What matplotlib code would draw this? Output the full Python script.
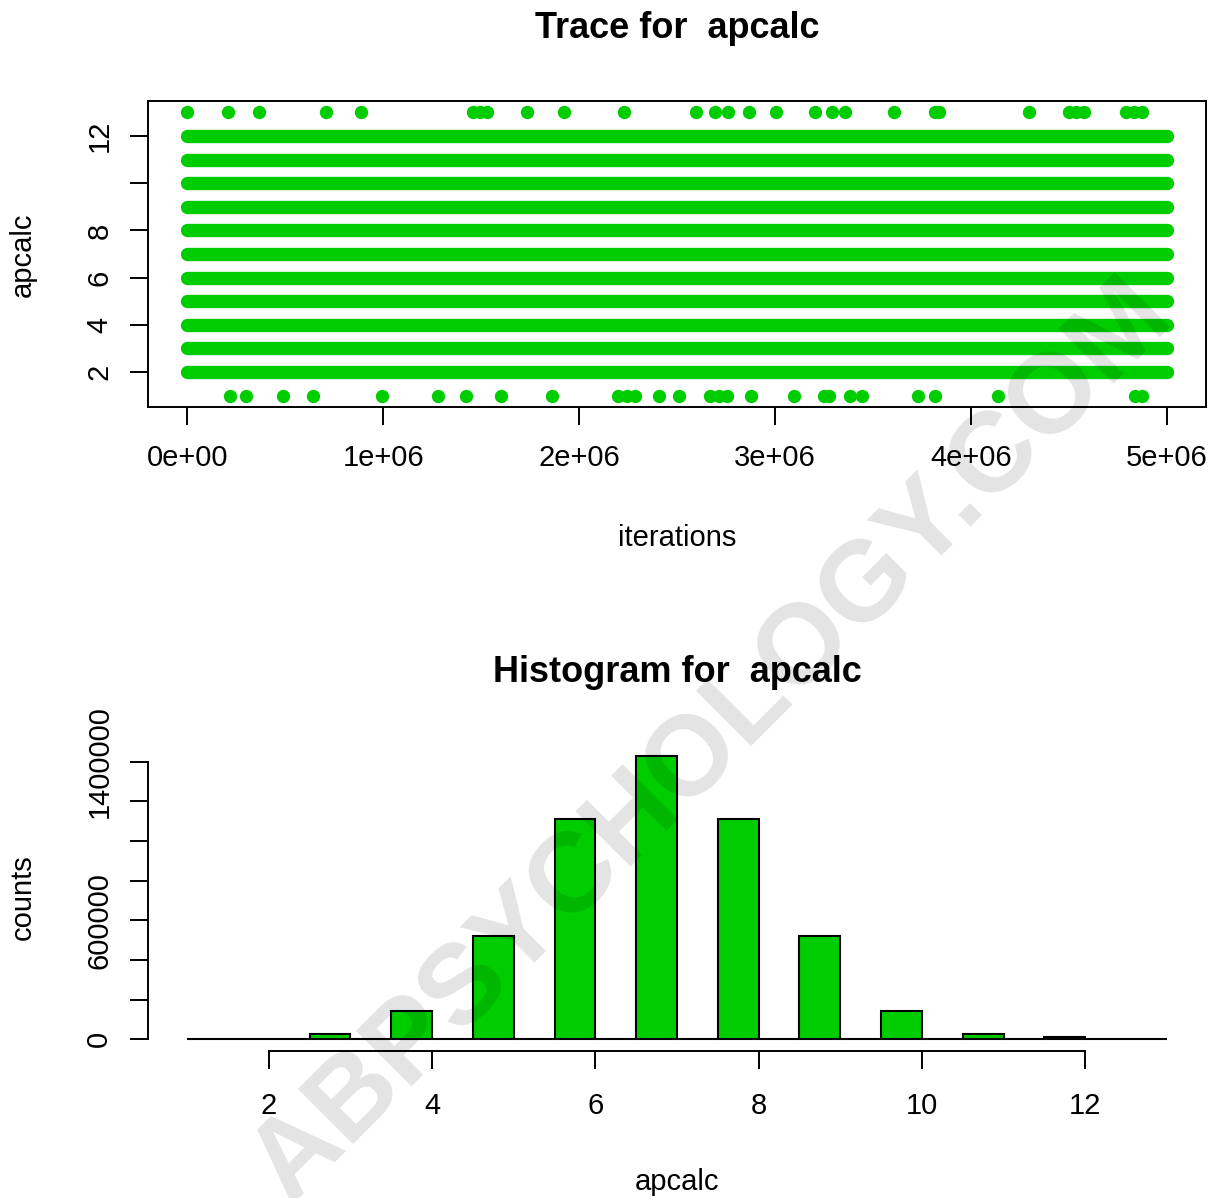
import numpy as np
import matplotlib
matplotlib.use("Agg")
import matplotlib.pyplot as plt

plt.rcParams["font.family"] = ["Liberation Sans", "DejaVu Sans"]

GREEN = "#00CD00"

# ---- trace data -------------------------------------------------------
# levels 2..12 are visited continuously over the whole run
dense_levels = [2, 3, 4, 5, 6, 7, 8, 9, 10, 11, 12]
dense_start = [0] * 11
dense_end = [5.0e6] * 11

# rare visits to the extreme levels (iteration numbers)
top_level = 13
top_iters = [0.001e6, 0.209e6, 0.366e6, 0.711e6, 0.885e6, 1.461e6, 1.496e6,
             1.532e6, 1.736e6, 1.924e6, 2.227e6, 2.596e6, 2.695e6, 2.759e6,
             2.869e6, 3.005e6, 3.202e6, 3.291e6, 3.359e6, 3.606e6, 3.815e6,
             3.835e6, 4.295e6, 4.499e6, 4.535e6, 4.576e6, 4.791e6, 4.832e6,
             4.872e6]
bottom_level = 1
bottom_iters = [0.218e6, 0.300e6, 0.490e6, 0.640e6, 0.992e6, 1.278e6, 1.423e6,
                1.600e6, 1.864e6, 2.201e6, 2.244e6, 2.287e6, 2.409e6, 2.508e6,
                2.670e6, 2.712e6, 2.754e6, 2.879e6, 3.095e6, 3.248e6, 3.274e6,
                3.385e6, 3.444e6, 3.730e6, 3.819e6, 4.138e6, 4.840e6, 4.874e6]

trace_xticks = [0, 1e6, 2e6, 3e6, 4e6, 5e6]
trace_xlabels = ["0e+00", "1e+06", "2e+06", "3e+06", "4e+06", "5e+06"]
trace_yticks = [2, 4, 6, 8, 10, 12]
trace_ylabels = ["2", "4", "6", "8", "", "12"]

# ---- histogram data ---------------------------------------------------
values = [1, 2, 3, 4, 5, 6, 7, 8, 9, 10, 11, 12, 13]
counts = [28, 2000, 27000, 144000, 521000, 1111000, 1430000, 1111000,
          521000, 144000, 27000, 10000, 29]
breaks = np.arange(1, 13.5, 0.5)

hist_xticks = [2, 4, 6, 8, 10, 12]
hist_yticks = [0, 200000, 400000, 600000, 800000, 1000000, 1200000, 1400000]
hist_ylabels = ["0", "", "", "600000", "", "", "", "1400000"]

# ---- figure -----------------------------------------------------------
W, H = 1213, 1198
fig = plt.figure(figsize=(W / 100, H / 100), dpi=100)


def fx(px):
    return px / W


def fy(py):
    return 1 - py / H


# Trace plot
ax1 = fig.add_axes([fx(148), fy(407), fx(1206) - fx(148), fy(101) - fy(407)])
for lvl, s, e in zip(dense_levels, dense_start, dense_end):
    ax1.plot([s, e], [lvl, lvl], color=GREEN, lw=9.6, solid_capstyle="round")
ax1.plot(top_iters, [top_level] * len(top_iters), "o", color=GREEN, ms=9.6, mew=0)
ax1.plot(bottom_iters, [bottom_level] * len(bottom_iters), "o", color=GREEN,
         ms=9.6, mew=0)
ax1.set_xlim(-0.2e6, 5.2e6)
ax1.set_ylim(0.52, 13.48)
ax1.set_xticks(trace_xticks)
ax1.set_xticklabels(trace_xlabels)
ax1.set_yticks(trace_yticks)
ax1.set_yticklabels(trace_ylabels, rotation=90, va="center")
for sp in ax1.spines.values():
    sp.set_linewidth(1.4)
ax1.tick_params(axis="both", direction="out", length=13, width=1.4, labelsize=21)
ax1.tick_params(axis="x", pad=14)
ax1.tick_params(axis="y", pad=12)

fig.text(fx(677), fy(28), "Trace for  apcalc", fontsize=26, fontweight="bold",
         ha="center", va="center")
fig.text(fx(677), fy(538), "iterations", fontsize=21, ha="center", va="center")
fig.text(fx(23), fy(255), "apcalc", fontsize=21, rotation=90, ha="center",
         va="center")

# Histogram
bin_counts = np.zeros(len(breaks) - 1)
for v, c in zip(values, counts):
    idx = max(np.searchsorted(breaks, v, side="left") - 1, 0)
    bin_counts[idx] += c

ax2 = fig.add_axes([fx(148), fy(1050.5), fx(1206) - fx(148), fy(744.4) - fy(1050.5)])
ax2.bar(breaks[:-1], bin_counts, width=0.5, align="edge", color=GREEN,
        edgecolor="black", linewidth=1.5)
ax2.set_xlim(0.52, 13.48)
ax2.set_ylim(-0.04 * max(counts), 1.04 * max(counts))
ax2.set_xticks(hist_xticks)
ax2.set_yticks(hist_yticks)
ax2.set_yticklabels(hist_ylabels, rotation=90, va="center")
ax2.spines["top"].set_visible(False)
ax2.spines["right"].set_visible(False)
ax2.spines["bottom"].set_bounds(2, 12)
ax2.spines["left"].set_bounds(0, 1400000)
ax2.spines["bottom"].set_linewidth(1.4)
ax2.spines["left"].set_linewidth(1.4)
ax2.tick_params(axis="both", direction="out", length=13, width=1.4, labelsize=21)
ax2.tick_params(axis="x", pad=17)
ax2.tick_params(axis="y", pad=12)

fig.text(fx(677), fy(672), "Histogram for  apcalc", fontsize=26,
         fontweight="bold", ha="center", va="center")
fig.text(fx(677), fy(1182), "apcalc", fontsize=21, ha="center", va="center")
fig.text(fx(23), fy(897), "counts", fontsize=21, rotation=90, ha="center",
         va="center")

# watermark
fig.text(fx(712), fy(742), "ABPSYCHOLOGY.COM", fontsize=82, fontweight="bold",
         color="black", alpha=0.11, rotation=45, ha="center", va="center",
         rotation_mode="anchor")

fig.savefig("out.png", dpi=100)
